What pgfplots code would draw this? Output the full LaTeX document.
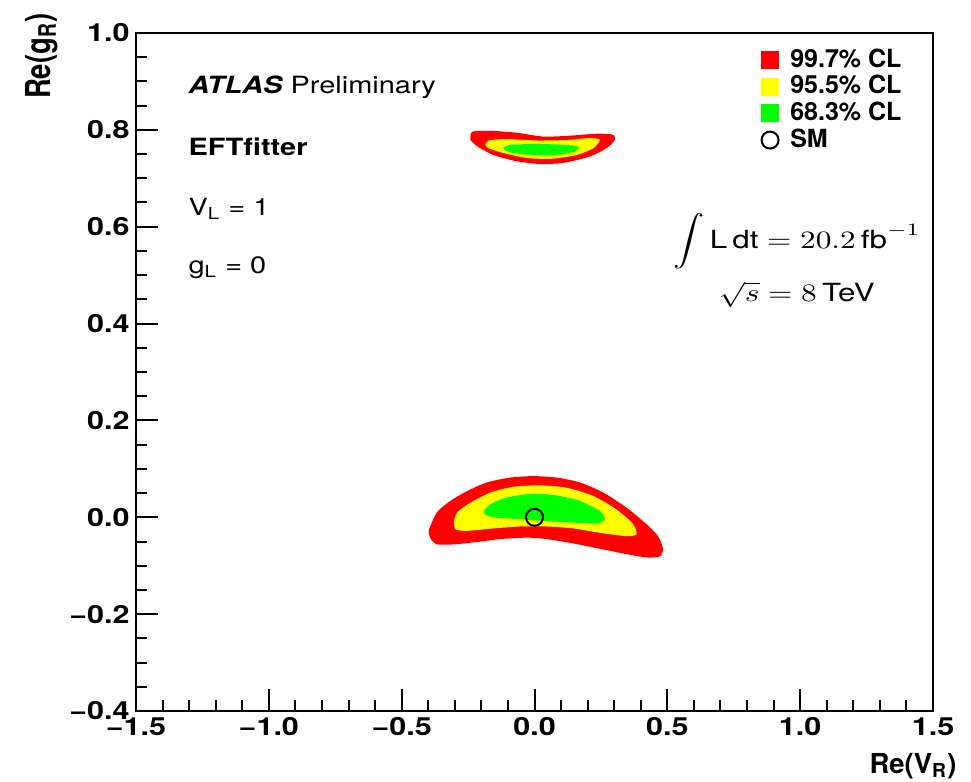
\documentclass[border=0pt]{standalone}
\usepackage{fontspec}
\setmainfont{TeX Gyre Heros}
\newfontfamily\widefont[FakeStretch=1.22]{TeX Gyre Heros}
\usepackage{graphicx}
\usepackage{pgfplots}
\pgfplotsset{compat=1.18}
\definecolor{clRed}{HTML}{FF0000}
\definecolor{clYellow}{HTML}{FFFF00}
\definecolor{clGreen}{HTML}{00FF00}

\begin{document}
\begin{tikzpicture}
\begin{axis}[
    scale only axis,
    width=318.8pt, height=271.2pt,
    xmin=-1.5, xmax=1.5, ymin=-0.4, ymax=1.0,
    xtick={-1.5,-1,-0.5,0,0.5,1,1.5},
    xticklabels={−1.5,−1.0,−0.5,0.0,0.5,1.0,1.5},
    ytick={-0.4,-0.2,0,0.2,0.4,0.6,0.8,1},
    yticklabels={−0.4,−0.2,0.0,0.2,0.4,0.6,0.8,1.0},
    minor x tick num=4, minor y tick num=3,
    tick align=inside, tick pos=left,
    major tick length=8.8pt, minor tick length=4.4pt,
    axis line style={line width=0.8pt},
    tick style={black, line width=0.8pt},
    ticklabel style={font=\widefont\fontsize{10}{12}\selectfont\bfseries},
    xticklabel style={inner sep=0pt, yshift=-2.4pt},
    yticklabel style={inner sep=0pt, xshift=-2.4pt},
    xlabel={Re(V\textsubscript{R})},
    ylabel={\scalebox{1}[1.25]{Re(g\textsubscript{R})}},
    label style={font=\fontsize{11}{13}\selectfont\bfseries, inner sep=0pt},
    xlabel style={at={(rel axis cs:1,0)}, anchor=base east, xshift=9.6pt, yshift=-24.8pt},
    ylabel style={at={([xshift=-34.4pt,yshift=8pt]rel axis cs:0,1)}, anchor=base east},
    legend style={at={(rel axis cs:0.783,0.981)}, anchor=north west,
      draw=none, fill=none, inner sep=0pt,
      font=\fontsize{10}{12}\selectfont\bfseries,
      nodes={inner sep=0.9pt}, row sep=0pt,
      /tikz/every odd column/.append style={column sep=3.4pt}},
    legend cell align=left,
]
% 99.7% CL
\addplot[fill=clRed, draw=none, smooth, tension=0.4,
  legend image code/.code={\fill[clRed] (0pt,-3.6pt) rectangle (7.2pt,3.6pt);}]
  coordinates {
  (-0.399,-0.028) (-0.368,0.010) (-0.316,0.034) (-0.254,0.054) (-0.179,0.072)
  (-0.091,0.082) (-0.004,0.085) (0.084,0.082) (0.171,0.072) (0.259,0.051)
  (0.346,0.020) (0.421,-0.014) (0.465,-0.039) (0.484,-0.066) (0.471,-0.081)
  (0.421,-0.083) (0.346,-0.076) (0.246,-0.065) (0.146,-0.054) (0.046,-0.045)
  (-0.029,-0.042) (-0.129,-0.045) (-0.216,-0.051) (-0.304,-0.056) (-0.366,-0.056)
  (-0.391,-0.045) (-0.399,-0.028)} -- cycle;
% 95.5% CL
\addplot[fill=clYellow, draw=none, smooth, tension=0.4,
  legend image code/.code={\fill[clYellow] (0pt,-3.6pt) rectangle (7.2pt,3.6pt);}]
  coordinates {
  (-0.304,-0.011) (-0.291,0.010) (-0.241,0.030) (-0.166,0.051) (-0.079,0.063)
  (0.021,0.066) (0.121,0.061) (0.221,0.044) (0.309,0.016) (0.371,-0.014)
  (0.384,-0.035) (0.346,-0.039) (0.246,-0.032) (0.146,-0.023) (0.046,-0.019)
  (-0.054,-0.019) (-0.154,-0.023) (-0.254,-0.028) (-0.297,-0.025) (-0.304,-0.011)} -- cycle;
% 68.3% CL
\addplot[fill=clGreen, draw=none, smooth, tension=0.4,
  legend image code/.code={\fill[clGreen] (0pt,-3.6pt) rectangle (7.2pt,3.6pt);}]
  coordinates {
  (-0.191,0.013) (-0.166,0.027) (-0.104,0.041) (-0.004,0.049) (0.084,0.045)
  (0.171,0.034) (0.246,0.013) (0.265,-0.004) (0.234,-0.013) (0.146,-0.011)
  (0.046,-0.008) (-0.054,-0.004) (-0.141,-0.001) (-0.185,0.005) (-0.191,0.013)} -- cycle;
% SM
\addplot[only marks, mark=o, mark size=3.4pt, mark options={black, line width=0.8pt},
  legend image code/.code={\draw[black, line width=0.8pt] (3.6pt,0pt) circle (3.4pt);}]
  coordinates {(0,0)};
\legend{99.7\% CL, 95.5\% CL, 68.3\% CL, SM}

% second solution near Re(gR) = 0.77
\addplot[fill=clRed, draw=none, smooth, tension=0.4, forget plot] coordinates {
  (-0.241,0.779) (-0.235,0.796) (-0.166,0.798) (-0.066,0.794) (0.034,0.786)
  (0.134,0.788) (0.234,0.792) (0.296,0.790) (0.302,0.779) (0.271,0.762)
  (0.209,0.745) (0.121,0.733) (0.034,0.729) (-0.066,0.735) (-0.154,0.748)
  (-0.216,0.766) (-0.241,0.779)} -- cycle;
\addplot[fill=clYellow, draw=none, smooth, tension=0.4, forget plot] coordinates {
  (-0.185,0.769) (-0.173,0.778) (-0.104,0.781) (0.009,0.778) (0.121,0.779)
  (0.209,0.783) (0.246,0.779) (0.221,0.762) (0.159,0.748) (0.059,0.740)
  (-0.029,0.742) (-0.116,0.752) (-0.173,0.762) (-0.185,0.769)} -- cycle;
\addplot[fill=clGreen, draw=none, smooth, tension=0.4, forget plot] coordinates {
  (-0.116,0.764) (-0.091,0.769) (0.009,0.771) (0.109,0.769) (0.165,0.766)
  (0.152,0.755) (0.084,0.748) (-0.004,0.748) (-0.079,0.752) (-0.110,0.757)
  (-0.116,0.764)} -- cycle;

% annotations
\node[anchor=base west, inner sep=0pt, font={\widefont\fontsize{9.5}{11}\selectfont}]
  at (axis cs:-1.304,0.876) {{\bfseries\itshape ATLAS} Preliminary};
\node[anchor=base west, inner sep=0pt, font={\widefont\fontsize{9.5}{11}\selectfont\bfseries}]
  at (axis cs:-1.304,0.748) {EFTfitter};
\node[anchor=base west, inner sep=0pt, font={\widefont\fontsize{9.5}{11}\selectfont}]
  at (axis cs:-1.304,0.624) {V\textsubscript{L} = 1};
\node[anchor=base west, inner sep=0pt, font={\widefont\fontsize{9.5}{11}\selectfont}]
  at (axis cs:-1.304,0.504) {g\textsubscript{L} = 0};
\node[anchor=base, inner sep=0pt, font=\fontsize{10}{12}\selectfont]
  at (axis cs:0.988,0.556) {\scalebox{1.25}[1]{$\displaystyle\int\mbox{L\,dt} = 20.2\,\mbox{fb}^{-1}$}};
\node[anchor=base, inner sep=0pt, font=\fontsize{10}{12}\selectfont]
  at (axis cs:0.987,0.445) {\scalebox{1.25}[1]{$\sqrt{s} = 8\,\mbox{TeV}$}};
\end{axis}
\pgfresetboundingbox
\path[use as bounding box] ([shift={(-54.4pt,-28pt)}]current axis.south west)
  rectangle ([shift={(15.2pt,13.2pt)}]current axis.north east);
\end{tikzpicture}
\end{document}
